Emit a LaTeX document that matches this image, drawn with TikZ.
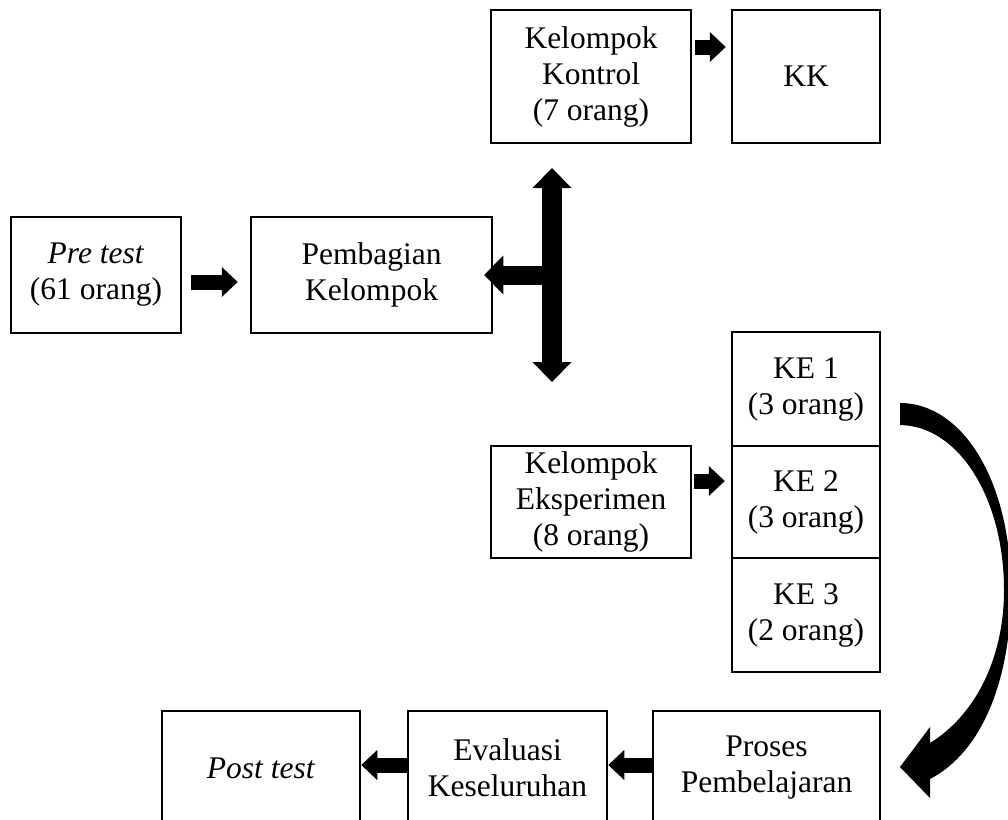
\documentclass[tikz,border=0pt]{standalone}
\usepackage{fontspec}
\setmainfont{Liberation Serif}
\usetikzlibrary{arrows.meta,calc}
\tikzset{
  box/.style={draw, line width=2.5pt, inner sep=0pt, align=center,
    font=\fontsize{31.5}{36}\selectfont},
  barrow/.style={line width=15pt, -{Triangle[length=16pt,width=30pt,line width=0pt 0 0]}},
  vbar/.style={line width=20pt, {Triangle[length=20pt,width=39pt,line width=0pt 0 0]}-{Triangle[length=20pt,width=39pt,line width=0pt 0 0]}},
  branch/.style={line width=19pt, -{Triangle[length=19pt,width=39pt,line width=0pt 0 0]}},
}
\begin{document}
\begin{tikzpicture}[x=1pt,y=-1pt]
\useasboundingbox (0,0) rectangle (1008,819);
\clip (0,0) rectangle (1008,819);
% boxes
\node[box, minimum width=170pt, minimum height=116pt] (pre) at (96,275) {\textit{Pre test}\\(61 orang)};
\node[box, minimum width=241pt, minimum height=116pt] (pemb) at (371.5,275) {Pembagian\\Kelompok};
\node[box, minimum width=200pt, minimum height=133pt] (kontrol) at (591,76.5) {Kelompok\\Kontrol\\(7 orang)};
\node[box, minimum width=148pt, minimum height=133pt] (kk) at (806,76.5) {KK};
\node[box, minimum width=148pt, minimum height=114pt] (ke1) at (806,389) {KE 1\\(3 orang)};
\node[box, minimum width=148pt, minimum height=112pt] (ke2) at (806,502) {KE 2\\(3 orang)};
\node[box, minimum width=148pt, minimum height=114pt] (ke3) at (806,615) {KE 3\\(2 orang)};
\node[box, minimum width=200pt, minimum height=112pt] (eksp) at (591,502) {Kelompok\\Eksperimen\\(8 orang)};
\node[box, minimum width=227pt, minimum height=114pt] (proses) at (766.5,768) {Proses\\Pembelajaran};
\node[box, minimum width=199pt, minimum height=114pt] (eval) at (507.5,768) {Evaluasi\\Keseluruhan};
\node[box, minimum width=198pt, minimum height=114pt] (post) at (261,768) {\textit{Post test}};
% straight block arrows
\draw[barrow, shorten <=9pt, shorten >=12pt] ([yshift=-7pt]pre.east) -- ([yshift=-7pt]pemb.west);
\draw[barrow, shorten <=3pt, shorten >=5pt] ([yshift=29.5pt]kontrol.east) -- ([yshift=29.5pt]kk.west);
\draw[barrow, shorten <=2pt, shorten >=6pt] ([yshift=21pt]eksp.east) -- ([yshift=21pt]ke2.west);
\draw[barrow] ([yshift=3pt]proses.west) -- ([yshift=3pt]eval.east);
\draw[barrow] ([yshift=3pt]eval.west) -- ([yshift=3pt]post.east);
% vertical double arrow with branch
\coordinate (vt) at (552,168);
\coordinate (vb) at (552,382);
\coordinate (vm) at (552,275);
\draw[vbar] (vt) -- (vb);
\draw[branch, shorten >=-9pt] (vm) -- (pemb.east);
% curved arrow from KE 1 to Proses Pembelajaran
\fill (900,403) .. controls (962,403) and (1011,480) .. (1011,590)
  .. controls (1011,680) and (982,752) .. (930,779)
  -- (930,798) -- (900,767) -- (930,727) -- (930,743)
  .. controls (974,716) and (1004,660) .. (1004,590)
  .. controls (1004,500) and (960,426) .. (900,425) -- cycle;
\end{tikzpicture}
\end{document}
